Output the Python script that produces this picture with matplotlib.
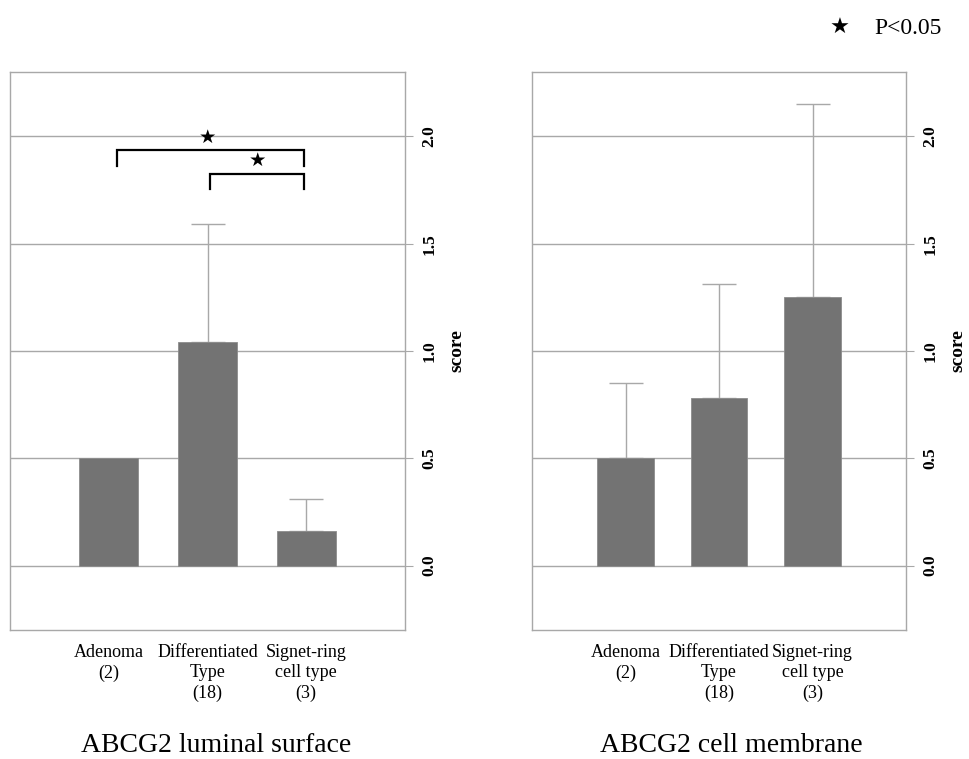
import numpy as np
import matplotlib
matplotlib.use("Agg")
from matplotlib import pyplot as plt

plt.rcParams['font.family'] = ['Liberation Serif', 'DejaVu Sans']

groups = ['Adenoma\n(2)', 'Differentiated\nType\n(18)', 'Signet-ring\ncell type\n(3)']

lum_mean = [0.50, 1.04, 0.16]
lum_err = [0.0, 0.55, 0.15]
mem_mean = [0.50, 0.78, 1.25]
mem_err = [0.35, 0.53, 0.90]

titles = ['ABCG2 luminal surface', 'ABCG2 cell membrane']
yticks = [0.0, 0.5, 1.0, 1.5, 2.0]

# significance brackets on the luminal panel: (x1, x2, y top, y leg, star x, star y)
brackets = [(0.08, 1.98, 1.935, 1.86, 1.0, 1.995),
            (1.03, 1.98, 1.827, 1.757, 1.51, 1.89)]

bar_col = '#737373'
line_col = '#a8a8a8'

fig = plt.figure(figsize=(9.69, 7.59), dpi=100)
ax1 = fig.add_axes([10 / 969, 129 / 759, 395 / 969, 558 / 759])
ax2 = fig.add_axes([532 / 969, 129 / 759, 374 / 969, 558 / 759])

x = np.arange(len(groups))
for ax, means, errs, title, xc in [(ax1, lum_mean, lum_err, titles[0], 216 / 969),
                                    (ax2, mem_mean, mem_err, titles[1], 731 / 969)]:
    ax.bar(x, means, width=0.6, color=bar_col, edgecolor='#8c8c8c', linewidth=0.6, zorder=3)
    for xi, m, e in zip(x, means, errs):
        if e > 0:
            ax.errorbar(xi, m, yerr=[[0], [e]], fmt='none', ecolor=line_col,
                        elinewidth=1, capsize=12.5, capthick=1, zorder=2)
    ax.set_xlim(-1, 3)
    ax.set_ylim(-0.3, 2.3)
    ax.set_yticks(yticks)
    ax.set_yticklabels(['%.1f' % t for t in yticks], rotation=90, va='center',
                       fontsize=12.5, fontweight='bold')
    ax.yaxis.tick_right()
    ax.yaxis.set_label_position('right')
    ax.tick_params(axis='y', length=6, color=line_col, pad=6)
    ax.set_ylabel('score', fontsize=14, fontweight='bold', labelpad=8)
    ax.grid(axis='y', color=line_col, linewidth=1, zorder=0)
    ax.set_xticks(x)
    ax.set_xticklabels(groups, fontsize=13, linespacing=1.25)
    ax.tick_params(axis='x', length=0, pad=10)
    for s in ax.spines.values():
        s.set_color(line_col)
        s.set_linewidth(1)
    fig.text(xc, 14 / 759, title, ha='center', va='center', fontsize=20)

for x1, x2, yt, yl, sx, sy in brackets:
    ax1.plot([x1, x1, x2, x2], [yl, yt, yt, yl], color='black', linewidth=1.6,
             zorder=4, solid_joinstyle='miter')
    ax1.text(sx, sy, '★', ha='center', va='center', fontsize=14,
             family='DejaVu Sans', zorder=5)

fig.text(840 / 969, 731 / 759, '★', ha='center', va='center', fontsize=16, family='DejaVu Sans')
fig.text(874 / 969, 731 / 759, 'P<0.05', ha='left', va='center', fontsize=17)

fig.savefig('out.png', dpi=100)
